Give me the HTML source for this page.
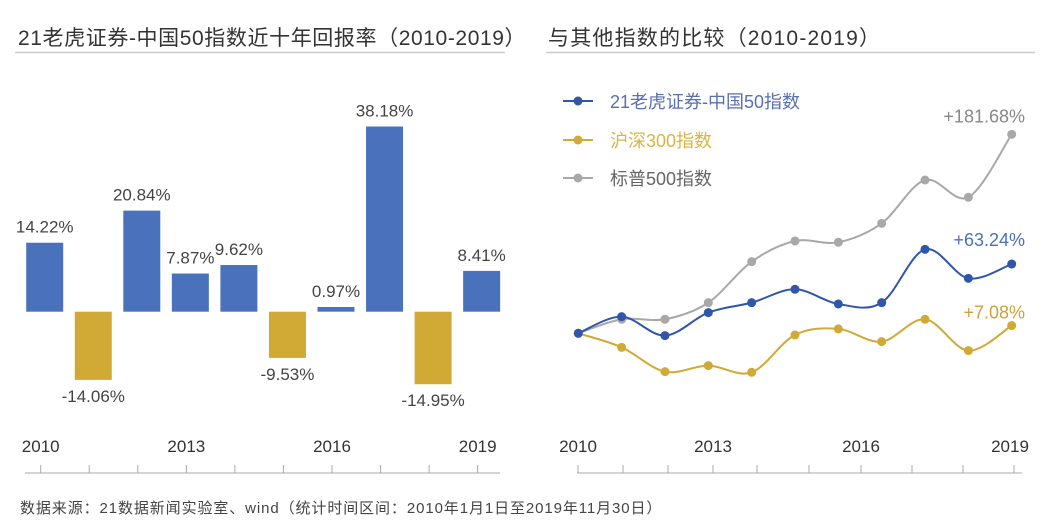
<!DOCTYPE html>
<html><head><meta charset="utf-8"><style>
body{margin:0;background:#fff;}
svg{display:block;font-family:"Liberation Sans","Noto Sans CJK SC",sans-serif;}
</style></head><body>
<svg id="s" width="1058" height="528" viewBox="0 0 1058 528">
<text x="18" y="45" font-size="21" letter-spacing="0.6" fill="#333">21老虎证券-中国50指数近十年回报率（2010-2019）</text>
<line x1="15" y1="52.5" x2="505" y2="52.5" stroke="#ccc" stroke-width="1.5"/>
<text x="548" y="45" font-size="21" letter-spacing="1.2" fill="#333">与其他指数的比较（2010-2019）</text>
<line x1="546" y1="52.5" x2="1035" y2="52.5" stroke="#ccc" stroke-width="1.5"/>
<g id="bars"></g>
<g id="lines"></g>
<text x="20" y="513" font-size="15" letter-spacing="0.9" fill="#444">数据来源：21数据新闻实验室、wind（统计时间区间：2010年1月1日至2019年11月30日）</text>
</svg>
<script>
const barYears=["2010","2011","2012","2013","2014","2015","2016","2017","2018","2019"];
const barValues=[14.22,-14.06,20.84,7.87,9.62,-9.53,0.97,38.18,-14.95,8.41];
const barTickLabels=["2010","2013","2016","2019"];
const lineYears=["2010","2011","2012","2013","2014","2015","2016","2017","2018","2019","2019-11"];
const seriesTiger=[0,15.2,-2.1,18.9,28,40.2,26.8,28,76.7,50.2,63.24];
const seriesCSI=[0,-12.8,-35,-29.5,-35.6,-1.5,4,-7.6,12.8,-15.8,7.08];
const seriesSP=[0,12.8,12.8,28,65.4,84.3,83.1,100.4,140,124.2,181.68];
const lineTickLabels=["2010","2013","2016","2019"];

const NS="http://www.w3.org/2000/svg";
function mk(tag,attrs,parent){const e=document.createElementNS(NS,tag);for(const k in attrs)e.setAttribute(k,attrs[k]);parent.appendChild(e);return e;}
const BLUE="#4a72bc",GOLD="#d1a935",GRAY="#a8a8a8";

const bg=document.getElementById('bars');
const bx=i=>44.7+i*48.55, by=v=>311.7-v*4.85;
barValues.forEach((v,i)=>{
  const r=mk('rect',{x:bx(i)-18.5,y:Math.min(by(v),by(0)),width:37,height:Math.abs(by(v)-by(0)),fill:v>=0?BLUE:GOLD},bg);
  
  
  const t=mk('text',{x:bx(i),y:v>=0?by(v)-10:by(v)+22,'font-size':17,fill:'#444','text-anchor':'middle'},bg);
  t.textContent=v.toFixed(2)+'%';
  
  
});
const la=mk('line',{x1:25,y1:473,x2:500,y2:473,stroke:'#aaa'},bg);


barYears.forEach((y,i)=>{
  const t=mk('line',{x1:bx(i)-4,y1:465,x2:bx(i)-4,y2:473,stroke:'#aaa'},bg);
  
  
  if(barTickLabels.includes(y)){
    const tx=mk('text',{x:bx(i)-4,y:452,'font-size':17,fill:'#333','text-anchor':'middle'},bg);
    tx.textContent=y;
    
    
  }
});

const lg=document.getElementById('lines');
const lx=i=>578.3+i*43.34, ly=v=>333.3-v*1.095;
const ra=mk('line',{x1:577,y1:473,x2:1022,y2:473,stroke:'#aaa'},lg);


const tickX=[578,623,668,713,757,809,861,912,963,1014];
barYears.forEach((y,i)=>{
  const t=mk('line',{x1:tickX[i],y1:465,x2:tickX[i],y2:473,stroke:'#aaa'},lg);
  
  
  if(lineTickLabels.includes(y)){
    const tx=mk('text',{x:y==="2019"?1010:tickX[i],y:452,'font-size':17,fill:'#333','text-anchor':'middle'},lg);
    tx.textContent=y;
    
    
  }
});
function smooth(pts){let d='M'+pts[0][0]+','+pts[0][1];
  for(let i=0;i<pts.length-1;i++){const p0=pts[i-1]||pts[i],p1=pts[i],p2=pts[i+1],p3=pts[i+2]||p2;
    d+=' C'+(p1[0]+(p2[0]-p0[0])/6)+','+(p1[1]+(p2[1]-p0[1])/6)+' '+(p2[0]-(p3[0]-p1[0])/6)+','+(p2[1]-(p3[1]-p1[1])/6)+' '+p2[0]+','+p2[1];}
  return d;}
const series=[["sp500",seriesSP,GRAY],["csi300",seriesCSI,GOLD],["tiger50",seriesTiger,"#2f56a8"]];
series.forEach(([name,vals,col])=>{
  const pts=vals.map((v,i)=>[lx(i),ly(v)]);
  const p=mk('path',{d:smooth(pts),fill:'none',stroke:col,'stroke-width':2},lg);
  
  
  pts.forEach((q,i)=>{const c=mk('circle',{cx:q[0],cy:q[1],r:4.5,fill:col},lg);
    
    });
});
function endLabel(txt,v,col,nm,dy){const t=mk('text',{x:1025,y:ly(v)+dy,'font-size':18,fill:col,'text-anchor':'end'},lg);t.textContent=txt;
  
  }
endLabel('+'+seriesSP[10].toFixed(2)+'%',seriesSP[10],'#888','end-label-sp500',-12);
endLabel('+'+seriesTiger[10].toFixed(2)+'%',seriesTiger[10],'#4a72bc','end-label-tiger50',-18);
endLabel('+'+seriesCSI[10].toFixed(2)+'%',seriesCSI[10],'#c9a43c','end-label-csi300',-7);
const leg=[["21老虎证券-中国50指数","#2f56a8","#5a6fb0",101],["沪深300指数",GOLD,"#d9b446",140],["标普500指数",GRAY,"#666",178]];
leg.forEach(([t,c,tc,y],i)=>{
  const g=mk('g',{},lg);
  
  
  mk('line',{x1:563,y1:y,x2:593,y2:y,stroke:c,'stroke-width':2},g);
  mk('circle',{cx:578,cy:y,r:4.5,fill:c},g);
  const tx=mk('text',{x:610,y:y+7,'font-size':18,fill:tc},g);tx.textContent=t;
});
</script>
</body></html>
